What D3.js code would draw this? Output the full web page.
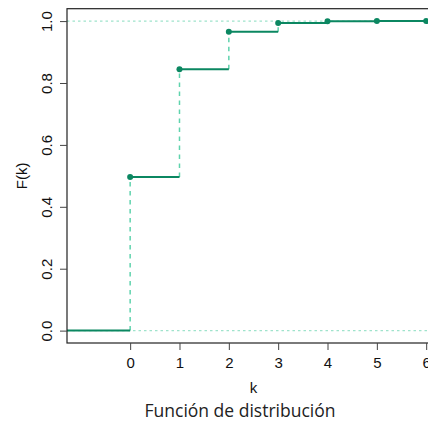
<!DOCTYPE html>
<html>
<head>
<meta charset="utf-8">
<script src="https://cdn.jsdelivr.net/npm/d3@7"></script>
<style>
  html, body { margin: 0; padding: 0; background: #fff; }
  svg { display: block; }
</style>
</head>
<body>
<svg id="chart" width="428" height="421"></svg>
<script>
// Cumulative distribution values F(k)
const ks = [0, 1, 2, 3, 4, 5, 6];
const cdf = [0.4966, 0.8442, 0.9659, 0.9942, 0.9992, 0.9999, 1.0];
const xTicks = [0, 1, 2, 3, 4, 5, 6];
const yTicks = [0.0, 0.2, 0.4, 0.6, 0.8, 1.0];
const xLabel = "k";
const yLabel = "F(k)";
const title = "Función de distribución";

const svg = d3.select("#chart");
const box = { left: 67, top: 8.7, right: 440, bottom: 343 };

// R-style 4% padding around the data ranges
const xDom = [-1, 6], yDom = [0, 1];
const xPad = (xDom[1] - xDom[0]) * 0.04, yPad = (yDom[1] - yDom[0]) * 0.04;
const x = d3.scaleLinear().domain([xDom[0] - xPad, xDom[1] + xPad]).range([box.left, box.right]);
const y = d3.scaleLinear().domain([yDom[0] - yPad, yDom[1] + yPad]).range([box.bottom, box.top]);

const dark = "#0b8761";
const dash = "#5fd3ad";
const dot = "#9fe3cc";
const sans = "Liberation Sans, Arial, sans-serif";

const plot = svg.append("g");

// Reference lines at 0 and 1
plot.selectAll("line.ref").data(yDom).join("line")
  .attr("x1", box.left).attr("x2", box.right)
  .attr("y1", d => y(d)).attr("y2", d => y(d))
  .attr("stroke", dot).attr("stroke-width", 1.2).attr("stroke-dasharray", "2.5,3");

// Vertical jumps (dashed)
const prev = cdf.map((v, i) => i === 0 ? 0 : cdf[i - 1]);
plot.selectAll("line.jump").data(ks).join("line")
  .attr("x1", d => x(d)).attr("x2", d => x(d))
  .attr("y1", (d, i) => y(prev[i])).attr("y2", (d, i) => y(cdf[i]))
  .attr("stroke", dash).attr("stroke-width", 1.5).attr("stroke-dasharray", "4.5,4.5");

// Horizontal steps (solid)
const steps = [{ x0: xDom[0] - xPad, x1: ks[0], v: 0 }]
  .concat(ks.map((k, i) => ({ x0: k, x1: i < ks.length - 1 ? ks[i + 1] : xDom[1] + xPad, v: cdf[i] })));
plot.selectAll("line.step").data(steps).join("line")
  .attr("x1", d => x(d.x0)).attr("x2", d => x(d.x1))
  .attr("y1", d => y(d.v)).attr("y2", d => y(d.v))
  .attr("stroke", dark).attr("stroke-width", 2);

// Points at each k
plot.selectAll("circle").data(ks).join("circle")
  .attr("cx", d => x(d)).attr("cy", (d, i) => y(cdf[i]))
  .attr("r", 3).attr("fill", dark);

// Frame
svg.append("rect")
  .attr("x", box.left).attr("y", box.top)
  .attr("width", box.right - box.left).attr("height", box.bottom - box.top)
  .attr("fill", "none").attr("stroke", "#222").attr("stroke-width", 1.2);

// Axes
const xAxis = svg.append("g").attr("transform", `translate(0,${box.bottom})`)
  .call(d3.axisBottom(x).tickValues(xTicks).tickFormat(d3.format("d")).tickSize(7));
const yAxis = svg.append("g").attr("transform", `translate(${box.left},0)`)
  .call(d3.axisLeft(y).tickValues(yTicks).tickFormat(d3.format(".1f")).tickSize(7));
[xAxis, yAxis].forEach(a => {
  a.attr("font-size", null).attr("font-family", null);
  a.select(".domain").remove();
  a.selectAll(".tick line").attr("stroke", "#444");
  a.selectAll(".tick text").attr("font-family", sans)
    .attr("font-size", 15).attr("fill", "#111");
});
xAxis.selectAll(".tick text").attr("y", 19).attr("dy", null)
  .attr("dominant-baseline", "central");
yAxis.selectAll(".tick text")
  .attr("text-anchor", "middle")
  .attr("x", null).attr("dy", null)
  .attr("transform", "translate(-20.5,0) rotate(-90)")
  .attr("dominant-baseline", "central");

// Axis titles
svg.append("text").attr("x", (box.left + box.right) / 2).attr("y", 387)
  .attr("text-anchor", "middle").attr("dominant-baseline", "central")
  .attr("font-family", sans).attr("font-size", 15).attr("fill", "#111").text(xLabel);
svg.append("text").attr("transform", `translate(21,${(box.top + box.bottom) / 2}) rotate(-90)`)
  .attr("text-anchor", "middle").attr("dominant-baseline", "central")
  .attr("font-family", sans).attr("font-size", 15).attr("fill", "#111").text(yLabel);

// Chart title
svg.append("text").attr("x", 240).attr("y", 416.5)
  .attr("text-anchor", "middle")
  .attr("font-family", "Open Sans, Lato, sans-serif")
  .attr("font-size", 17.5).attr("fill", "#222").text(title);
</script>
</body>
</html>
